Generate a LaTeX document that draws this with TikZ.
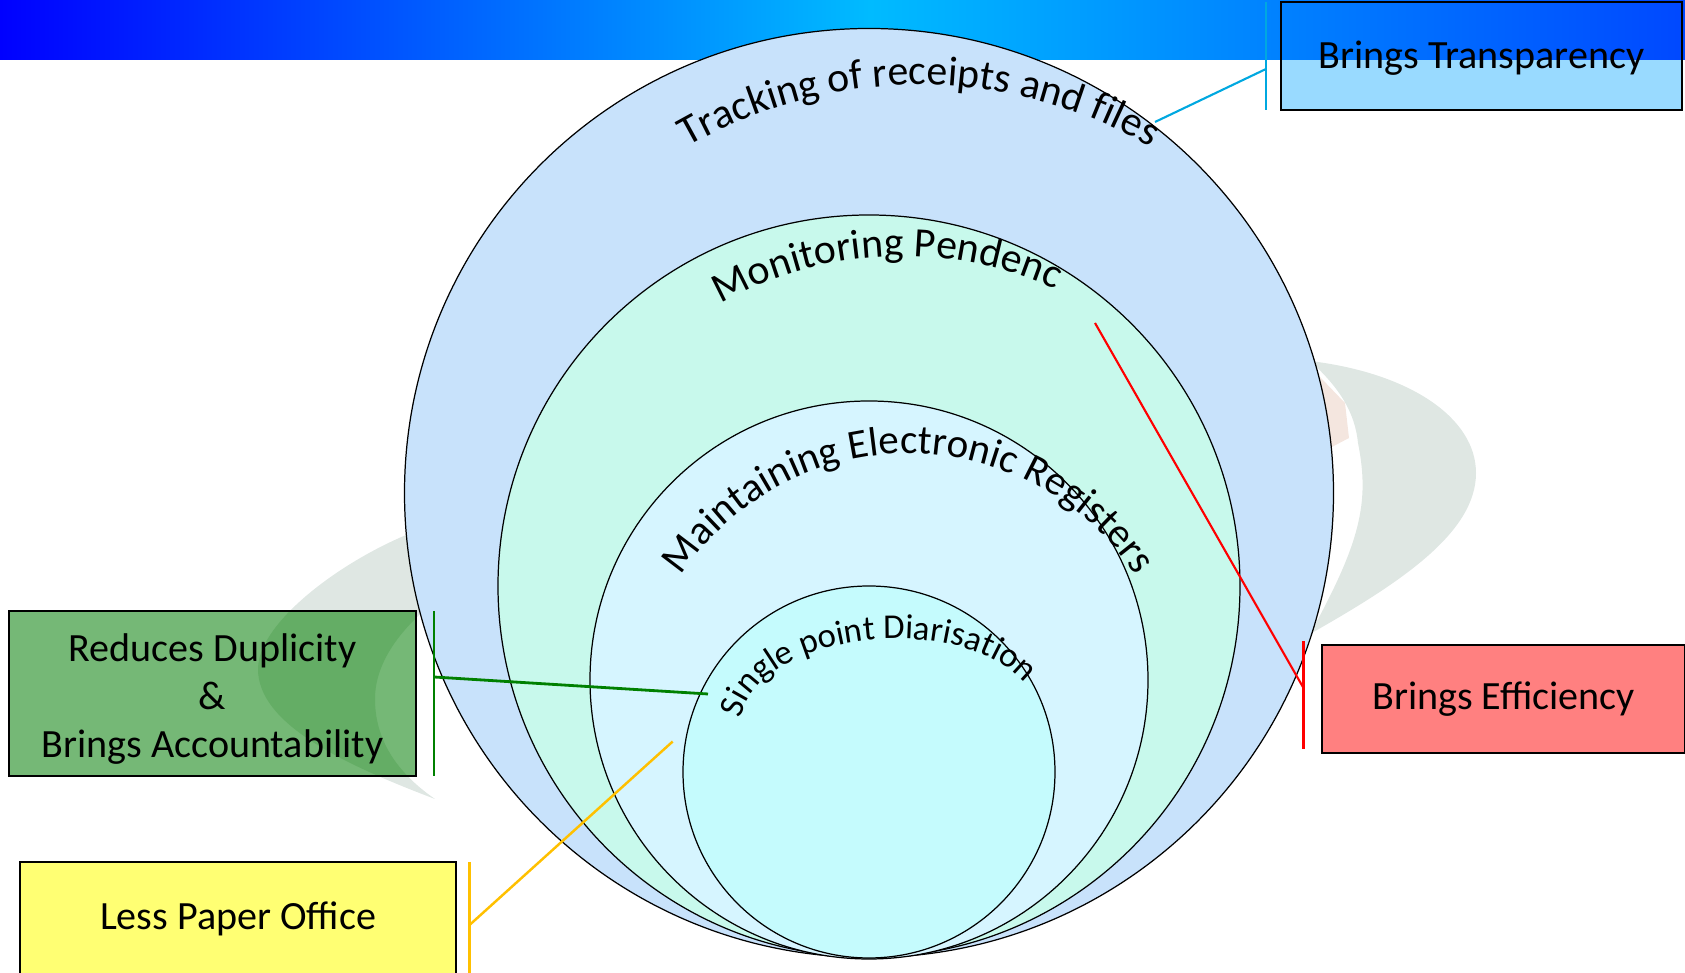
\documentclass[tikz,border=0pt]{standalone}
\usepackage{fontspec}
\setmainfont{Carlito}
\usetikzlibrary{decorations.text}
\definecolor{barblue}{HTML}{0000FF}
\definecolor{barcyan}{HTML}{00BBFF}
\definecolor{barright}{HTML}{0048FF}
\definecolor{ringa}{HTML}{C8E2FB}
\definecolor{ringb}{HTML}{C8F9EC}
\definecolor{ringc}{HTML}{D6F5FF}
\definecolor{ringd}{HTML}{C5FBFD}
\definecolor{transpblue}{HTML}{99DAFF}
\definecolor{dupgreen}{HTML}{75B876}
\definecolor{dupdark}{HTML}{64AD65}
\definecolor{effred}{HTML}{FF8080}
\definecolor{paperyellow}{HTML}{FFFF73}
\definecolor{markgrey}{HTML}{DFE7E3}
\definecolor{markred}{HTML}{F4E6DF}
\definecolor{calblue}{HTML}{00A8E0}
\definecolor{calgreen}{HTML}{008000}
\definecolor{calyellow}{HTML}{FFC000}
\newcommand{\leftmarkpath}{(4.6,4.55) .. controls (3.8,4.4) and (2.58,3.6) .. (2.58,3.04)
    .. controls (2.58,2.5) and (3.4,2.1) .. (4.35,1.74)
    .. controls (3.9,2.05) and (3.75,2.4) .. (3.75,2.74)
    .. controls (3.75,3.1) and (4.0,3.5) .. (4.6,3.9) -- cycle}
\tikzset{
    ring/.style={circle,draw=black,line width=0.35pt,inner sep=0pt},
    label box/.style={draw=black,line width=0.7pt,inner sep=0pt,align=center,
        font=\fontsize{11.4}{13.7}\selectfont},
    arc text/.style={decorate,decoration={text along path,text align=center,text={#1}}}
}
\begin{document}
\begin{tikzpicture}
            \useasboundingbox (0,0) rectangle (16.85,9.73);
            % background
            \fill[markgrey] (13.1,6.12) .. controls (14.1,6.0) and (14.76,5.55) .. (14.76,5.0)
                .. controls (14.76,4.4) and (14.0,3.9) .. (13.1,3.39)
                .. controls (13.6,4.3) and (13.7,4.7) .. (13.58,5.3)
                .. controls (13.55,5.6) and (13.4,5.85) .. cycle;
            \fill[markred] (13.2,5.96) -- (13.45,5.7) -- (13.49,5.35) -- (13.3,5.25) -- cycle;
            \fill[markgrey] \leftmarkpath;
            \shade[left color=barblue,right color=barcyan] (0,9.13) rectangle (8.7,9.73);
            \shade[left color=barcyan,right color=barright] (8.7,9.13) rectangle (16.85,9.73);
            \fill[transpblue] (12.81,8.63) rectangle (16.82,9.13);
            \fill[dupgreen] (0.09,1.97) rectangle (4.16,3.62);
            \begin{scope}
                \clip (0.09,1.97) rectangle (4.16,3.62);
                \fill[dupdark] \leftmarkpath;
            \end{scope}
            % circles
            \node[ring,fill=ringa,minimum size=9.29cm] (outer) at (8.69,4.80) {};
            \node[ring,fill=ringb,minimum size=7.42cm] (second) at (8.69,3.87) {};
            \node[ring,fill=ringc,minimum size=5.58cm] (third) at (8.69,2.93) {};
            \node[ring,fill=ringd,minimum size=3.72cm] (inner) at (8.69,2.01) {};
            % curved titles
            \path[arc text={|\fontsize{11.9}{14}\selectfont|Tracking of receipts and files}]
                (6.91,8.28) arc[start angle=119.5,end angle=60.5,radius=4.63];
            \path[arc text={|\fontsize{11.9}{14}\selectfont|Monitoring Pendency}]
                (7.31,6.75) arc[start angle=117.5,end angle=64.3,radius=3.70];
            \path[arc text={|\fontsize{11.7}{14}\selectfont|Maintaining Electronic Registers}]
                (6.85,4.03) arc[start angle=145,end angle=35,radius=2.73];
            \path[arc text={|\fontsize{9.9}{11}\selectfont|Single point Diarisation}]
                (7.43,2.63) .. controls (7.7,3.4) and (9.5,3.6) .. (10.19,2.96);
            % boxes
            \node[label box,minimum width=4.01cm,minimum height=1.08cm,text depth=0.03cm] (transp) at (14.815,9.17)
                {Brings Transparency};
            \node[label box,fill=effred,minimum width=3.63cm,minimum height=1.075cm] (effic) at (15.035,2.74)
                {Brings Efficiency};
            \node[label box,minimum width=4.07cm,minimum height=1.65cm] (dup) at (2.125,2.795)
                {\rule{0pt}{11pt}Reduces Duplicity\\\&\\Brings Accountability};
            \node[label box,fill=paperyellow,minimum width=4.36cm,minimum height=1.14cm] (paper) at (2.38,0.54)
                {Less Paper Office};
            % callouts
            \coordinate (transptop) at (12.66,9.71);
            \coordinate (transpbot) at (12.66,8.63);
            \coordinate (transpjoin) at (12.66,9.04);
            \coordinate (transpend) at (11.55,8.51);
            \draw[calblue,line width=0.6pt] (transptop) -- (transpbot);
            \draw[calblue,line width=0.6pt] (transpjoin) -- (transpend);
            \coordinate (effictop) at (13.035,3.32);
            \coordinate (efficbot) at (13.035,2.24);
            \coordinate (efficjoin) at (13.035,2.85);
            \coordinate (efficend) at (10.95,6.50);
            \draw[red,line width=0.6pt] (effictop) -- (efficbot);
            \draw[red,line width=0.6pt] (efficjoin) -- (efficend);
            \coordinate (duptop) at (4.34,3.62);
            \coordinate (dupbot) at (4.34,1.97);
            \coordinate (dupjoin) at (4.34,2.96);
            \coordinate (dupend) at (7.08,2.79);
            \draw[calgreen,line width=0.8pt] (duptop) -- (dupbot);
            \draw[calgreen,line width=0.8pt] (dupjoin) -- (dupend);
            \coordinate (papertop) at (4.695,1.11);
            \coordinate (paperbot) at (4.695,0);
            \coordinate (paperjoin) at (4.695,0.48);
            \coordinate (paperend) at (6.727,2.315);
            \draw[calyellow,line width=0.7pt] (papertop) -- (paperbot);
            \draw[calyellow,line width=0.7pt] (paperjoin) -- (paperend);
        \end{tikzpicture}
\end{document}
